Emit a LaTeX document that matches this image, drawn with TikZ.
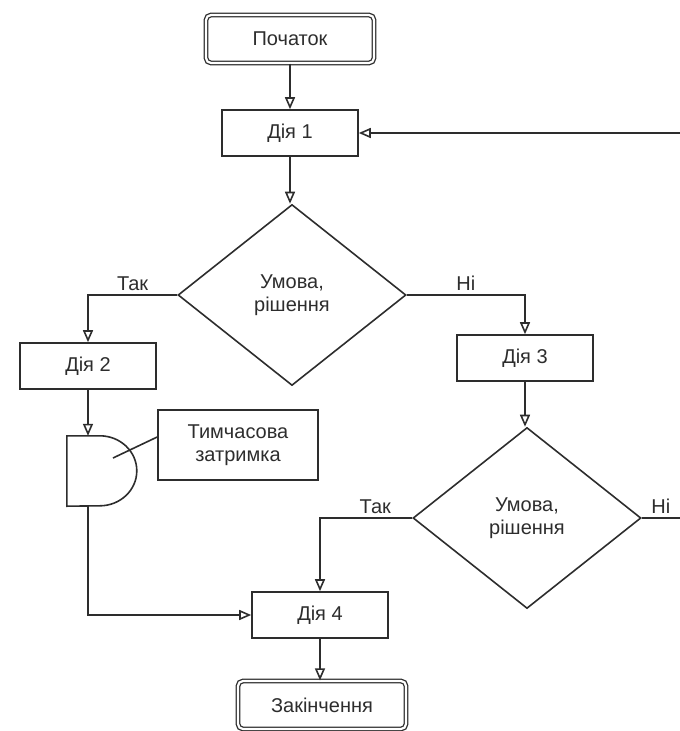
\documentclass[tikz,border=0pt]{standalone}
\usepackage{fontspec}
\setmainfont{Liberation Sans}
\usetikzlibrary{positioning, arrows.meta, shapes.geometric}
\definecolor{linecol}{RGB}{45,45,45}

\begin{document}
\begin{tikzpicture}[x=1pt, y=-1pt,
      cell/.style={draw=linecol, line width=1.6pt, text=linecol, inner sep=0pt, align=center, font=\fontsize{20}{23}\selectfont},
      term/.style={cell, rectangle, rounded corners=5pt, double, double distance=2.2pt, line width=1.3pt, minimum width=168pt, minimum height=48pt},
      act/.style={cell, rectangle, minimum width=136pt, minimum height=46pt},
      cond/.style={cell, diamond, minimum width=228pt, minimum height=181pt},
      memo/.style={cell, rectangle, minimum width=160pt, minimum height=70pt},
      wire/.style={draw=linecol, line width=1.6pt},
      arr/.style={wire, -{Triangle[open, length=12pt, width=10pt]}},
      lbl/.style={text=linecol, font=\fontsize{20}{23}\selectfont}]

      \useasboundingbox (0,0) rectangle (680,731);

      % Main column
      \node[term] (start) at (290, 39)  {Початок};
      \node[act]  (d1)    at (290, 133) {Дія 1};
      \node[cond] (c1)    at (292, 295) {Умова,\\рішення};

      % Left branch
      \node[act]  (d2)    at (88, 366)  {Дія 2};
      \node[inner sep=0pt, minimum width=70pt, minimum height=70pt] (delay) at (102, 471) {};
      \node[memo] (note)  at (238, 445) {Тимчасова\\затримка};

      % Right branch
      \node[act]  (d3)    at (525, 358) {Дія 3};
      \node[cond] (c2)    at (527, 518) {Умова,\\рішення};

      % Bottom
      \node[act]  (d4)    at (320, 615) {Дія 4};
      \node[term] (fin)   at (322, 705) {Закінчення};

      \coordinate (back) at (680, 133);
      \coordinate (out)  at (680, 518);

      % Delay symbol
      \draw[wire] (delay.north west) -- ++(33,0)
            arc[start angle=90, end angle=-90, x radius=37pt, y radius=35pt]
            -- (delay.south west) -- cycle;

      % Connectors
      \draw[arr] (start) -- (d1);
      \draw[arr] (d1.south) -- (d1.south |- c1.north);
      \draw[arr] (back) -- (d1.east);
      \draw[arr] (c1.west) -| (d2.north) node[lbl, pos=0.25, above] {Так};
      \draw[arr] (c1.east) -| (d3.north) node[lbl, pos=0.25, above] {Ні};
      \draw[arr] (d2.south) -- (d2.south |- delay.north);
      \draw[wire] ([yshift=8pt]note.west) -- ([xshift=11pt, yshift=13pt]delay.center);
      \draw[arr] (d2.south |- delay.south) |- (d4.west);
      \draw[arr] (d3.south) -- (d3.south |- c2.north);
      \draw[arr] (c2.west) -| (d4.north) node[lbl, pos=0.2, above] {Так};
      \draw[wire] (c2.east) -- (out) node[lbl, midway, above] {Ні};
      \draw[arr] (d4.south) -- (d4.south |- fin.north);
    \end{tikzpicture}
\end{document}
